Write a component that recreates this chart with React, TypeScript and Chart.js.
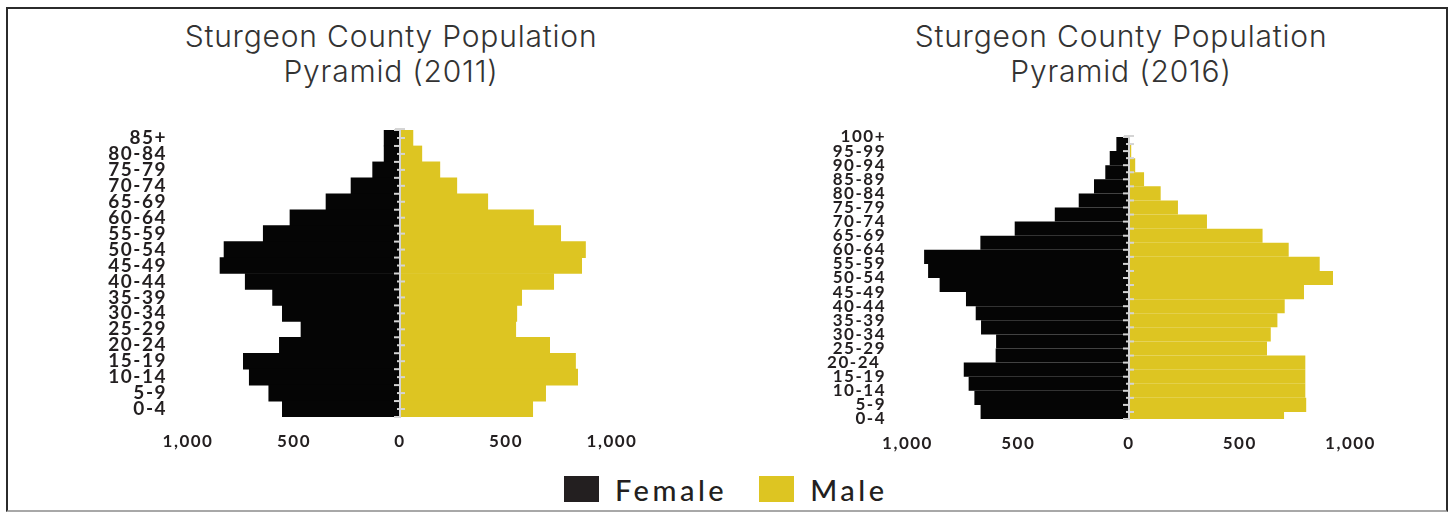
import React, { useEffect, useRef } from 'react';
import { Chart, registerables } from 'chart.js';

Chart.register(...registerables);

// ---------- data ----------
const labels2011 = ['85+', '80-84', '75-79', '70-74', '65-69', '60-64', '55-59', '50-54', '45-49', '40-44', '35-39', '30-34', '25-29', '20-24', '15-19', '10-14', '5-9', '0-4'];
const female2011 = [75, 75, 129, 231, 349, 519, 645, 830, 849, 730, 601, 555, 467, 569, 739, 711, 619, 555];
const male2011 = [61, 103, 188, 268, 414, 630, 758, 875, 857, 725, 574, 551, 546, 706, 828, 838, 687, 626];

const labels2016 = ['100+', '95-99', '90-94', '85-89', '80-84', '75-79', '70-74', '65-69', '60-64', '55-59', '50-54', '45-49', '40-44', '35-39', '30-34', '25-29', '20-24 ', '15-19', '10-14', '5-9', '0-4'];
const female2016 = [57, 87, 107, 158, 227, 335, 516, 671, 925, 907, 855, 736, 692, 668, 600, 602, 746, 724, 698, 670, 641];
const male2016 = [2, 10, 28, 68, 143, 221, 352, 603, 721, 861, 921, 790, 703, 670, 640, 623, 796, 796, 796, 800, 700];

const xMin = -1000;
const xMax = 1000;
const xStep = 500;

const titleLines2011 = ['Sturgeon County Population', 'Pyramid (2011)'];
const titleLines2016 = ['Sturgeon County Population', 'Pyramid (2016)'];
const legendItems = ['Female', 'Male'];

const FEMALE_COLOR = '#050505';
const MALE_COLOR = '#DDC522';
const TEXT_COLOR = '#231f20';
const AXIS_LINE = '#d4d4d4';

// ---------- plugins ----------
const spacingPlugin = {
  id: 'spacing',
  beforeUpdate(chart: any, _a: any, opts: any) {
    chart.ctx.letterSpacing = opts.value || '0px';
  },
  beforeDraw(chart: any, _a: any, opts: any) {
    chart.ctx.letterSpacing = opts.value || '0px';
  },
};

const centerLinePlugin = {
  id: 'centerLine',
  afterDatasetsDraw(chart: any, _a: any, opts: any) {
    const { ctx, chartArea } = chart;
    const x = chart.scales.x;
    const y = chart.scales.y;
    const cx = x.getPixelForValue(0);
    const n = opts.count;
    ctx.save();
    ctx.strokeStyle = AXIS_LINE;
    ctx.lineWidth = 2;
    ctx.beginPath();
    ctx.moveTo(cx, chartArea.top - 2);
    ctx.lineTo(cx, chartArea.bottom + 1);
    ctx.stroke();
    ctx.beginPath();
    ctx.moveTo(cx - 5, chartArea.top - 1);
    ctx.lineTo(cx + 5, chartArea.top - 1);
    ctx.stroke();
    const tick = (side: string, yy: number) => {
      ctx.beginPath();
      if (side === 'left') {
        ctx.moveTo(cx - 6, yy);
        ctx.lineTo(cx, yy);
      } else {
        ctx.moveTo(cx - 3, yy);
        ctx.lineTo(cx + 5, yy);
      }
      ctx.stroke();
    };
    for (let i = 0; i < n; i++) {
      tick(opts.labelSide, y.getPixelForValue(i));
    }
    for (let v = -0.5; v <= n - 0.5; v += 1) {
      if (v >= y.min - 1e-6 && v <= y.max + 1e-6) tick(opts.halfSide, y.getPixelForValue(v));
    }
    ctx.restore();
  },
};

type PyramidProps = {
  labels: string[];
  female: number[];
  male: number[];
  femaleShift: number;
  edgeLabels: boolean;
  left: number;
  top: number;
  width: number;
  height: number;
  padding: { left: number; right: number; top: number; bottom: number };
  yWidth: number;
  xHeight: number;
  yFontSize: number;
  yPadding: number;
  xPadding: number;
  labelSide: string;
  halfSide: string;
};

function Pyramid(p: PyramidProps) {
  const ref = useRef<HTMLCanvasElement>(null);
  useEffect(() => {
    const n = p.labels.length;
    const chart = new Chart(ref.current as HTMLCanvasElement, {
      type: 'bar',
      data: {
        datasets: [
          {
            label: 'Female',
            data: p.female.map((v, i) => ({ x: -v, y: i + p.femaleShift })),
            backgroundColor: FEMALE_COLOR,
            borderWidth: 0,
            clip: 0,
          } as any,
          {
            label: 'Male',
            data: p.male.map((v, i) => ({ x: v, y: i })),
            backgroundColor: MALE_COLOR,
            borderWidth: 0,
            clip: 0,
          } as any,
        ],
      },
      options: {
        indexAxis: 'y',
        responsive: false,
        animation: false,
        devicePixelRatio: 1,
        layout: { padding: p.padding },
        datasets: {
          bar: {
            grouped: false,
            categoryPercentage: 1,
            barPercentage: p.femaleShift ? 2 : 1,
          },
        },
        plugins: {
          legend: { display: false },
          tooltip: { enabled: false },
          title: { display: false },
          centerLine: { count: n, labelSide: p.labelSide, halfSide: p.halfSide },
          spacing: { value: '1.5px' },
        } as any,
        scales: {
          x: {
            type: 'linear',
            min: xMin,
            max: xMax,
            offset: false,
            grid: { display: false, drawTicks: false },
            border: { display: false },
            ticks: {
              stepSize: xStep,
              maxRotation: 0,
              padding: p.xPadding,
              color: TEXT_COLOR,
              font: { family: 'Lato', size: 17, weight: '700' },
              callback: (v: any) => Math.abs(Number(v)).toLocaleString('en-US'),
            },
            afterFit: (s: any) => {
              s.height = p.xHeight;
              s.paddingLeft = 0;
              s.paddingRight = 0;
            },
          },
          y: {
            type: 'linear',
            reverse: true,
            offset: false,
            bounds: 'data',
            min: p.edgeLabels ? 0 : -0.5,
            max: p.edgeLabels ? n - 1 : n - 0.5,
            grid: { display: false, drawTicks: false, offset: false },
            border: { display: false },
            afterBuildTicks: (s: any) => {
              s.ticks = p.labels.map((_l, i) => ({ value: i }));
            },
            ticks: {
              autoSkip: false,
              padding: p.yPadding,
              color: TEXT_COLOR,
              font: { family: 'Lato', size: p.yFontSize, weight: '700' },
              callback: (v: any) => {
                const i = Math.round(Number(v));
                return p.labels[i] !== undefined ? p.labels[i] : '';
              },
            },
            afterFit: (s: any) => {
              s.width = p.yWidth;
              s.paddingTop = 0;
              s.paddingBottom = 0;
            },
          },
        } as any,
      },
      plugins: [spacingPlugin as any, centerLinePlugin as any],
    });
    return () => chart.destroy();
  }, []);
  return (
    <canvas
      ref={ref}
      width={p.width}
      height={p.height}
      style={{ position: 'absolute', left: p.left, top: p.top, width: p.width, height: p.height }}
    />
  );
}

function Title({ lines, center }: { lines: string[]; center: number }) {
  return (
    <div
      style={{
        position: 'absolute',
        left: center - 300,
        top: 19,
        width: 600,
        textAlign: 'center',
        fontFamily: 'Inter, sans-serif',
        fontWeight: 300,
        fontSize: 30,
        lineHeight: '35px',
        letterSpacing: '0.8px',
        color: '#333',
      }}
    >
      {lines.map((l) => (
        <div key={l}>{l}</div>
      ))}
    </div>
  );
}

export default function App() {
  return (
    <div
      style={{
        position: 'fixed',
        left: 0,
        top: 0,
        width: 1453,
        height: 512,
        background: '#fff',
        overflow: 'hidden',
      }}
    >
      <div
        style={{
          position: 'absolute',
          left: 6,
          top: 7,
          width: 1442,
          height: 505,
          boxSizing: 'border-box',
          border: '2px solid #2b2b2b',
          borderBottomColor: '#a8a8a8',
        }}
      />
      <Title lines={titleLines2011} center={391} />
      <Title lines={titleLines2016} center={1121} />
      <Pyramid
        labels={labels2011}
        female={female2011}
        male={male2011}
        femaleShift={0}
        edgeLabels={false}
        left={60}
        top={100}
        width={600}
        height={370}
        padding={{ left: 18, right: 48, top: 30, bottom: 13 }}
        yWidth={110}
        xHeight={40}
        yFontSize={19}
        yPadding={21}
        xPadding={14}
        labelSide="right"
        halfSide="left"
      />
      <Pyramid
        labels={labels2016}
        female={female2016}
        male={male2016}
        femaleShift={0.5}
        edgeLabels={true}
        left={780}
        top={100}
        width={620}
        height={370}
        padding={{ left: 17.5, right: 49.5, top: 37, bottom: 11 }}
        yWidth={110}
        xHeight={40}
        yFontSize={17}
        yPadding={21.5}
        xPadding={14}
        labelSide="left"
        halfSide="right"
      />
      <div
        style={{
          position: 'absolute',
          left: 564,
          top: 470,
          height: 38,
          display: 'flex',
          alignItems: 'center',
          fontFamily: 'Lato, sans-serif',
          fontWeight: 500,
          fontSize: 29,
          letterSpacing: '3.5px',
          color: TEXT_COLOR,
        }}
      >
        {legendItems.map((name, i) => (
          <div key={name} style={{ display: 'flex', alignItems: 'center', marginRight: i === 0 ? 32 : 0 }}>
            <div
              style={{
                width: 35,
                height: 26,
                background: i === 0 ? '#231f20' : MALE_COLOR,
                marginRight: 16,
              }}
            />
            <span>{name}</span>
          </div>
        ))}
      </div>
    </div>
  );
}
